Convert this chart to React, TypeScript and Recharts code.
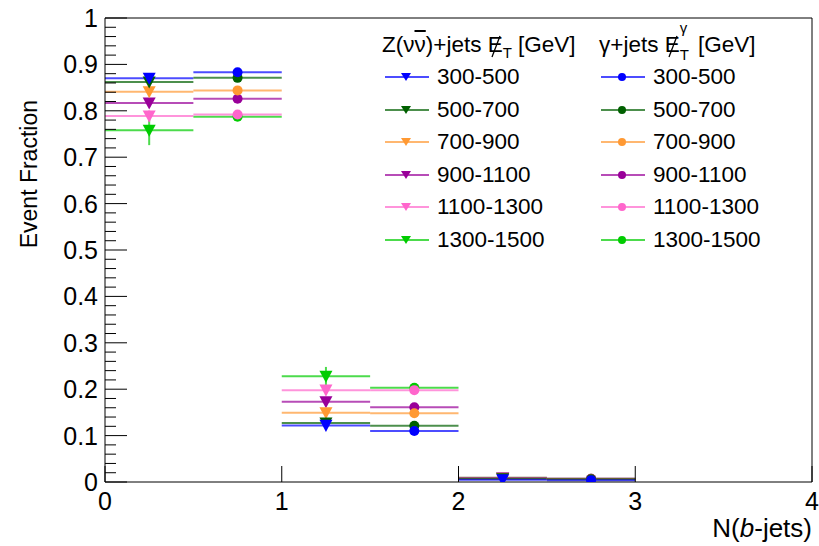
import React from 'react';
import { ComposedChart, ErrorBar, Label, Legend, ReferenceLine, Scatter, XAxis, YAxis } from 'recharts';

const FONT = '"Liberation Sans", Arial, Helvetica, sans-serif';

// MET ranges (GeV), same for both samples
const ranges = ['300-500', '500-700', '700-900', '900-1100', '1100-1300', '1300-1500'];
const colors = ['#0000ff', '#006000', '#ff9933', '#990099', '#ff66cc', '#00cc00'];

// bin centres: Z sits in the left half of each N(b-jets) bin, gamma in the right half
const zCenters = [0.25, 1.25, 2.25];
const gCenters = [0.75, 1.75, 2.75];
const halfWidth = 0.25;

// Z(nunu)+jets event fractions, one entry per MET range
const zFrac0b = [0.87, 0.862, 0.841, 0.817, 0.789, 0.758];
const zFrac1b = [0.122, 0.127, 0.149, 0.173, 0.198, 0.228];
const zFrac2b = [0.005, 0.007, 0.007, 0.008, 0.009, 0.009];
const zErr0b = [0.004, 0.005, 0.006, 0.008, 0.012, 0.032];
const zErr1b = [0.004, 0.005, 0.006, 0.007, 0.01, 0.02];
const zErr2b = [0.002, 0.002, 0.003, 0.003, 0.004, 0.004];

// gamma+jets event fractions
const gFrac0b = [0.883, 0.871, 0.844, 0.826, 0.792, 0.787];
const gFrac1b = [0.11, 0.121, 0.148, 0.161, 0.198, 0.203];
const gFrac2b = [0.004, 0.006, 0.006, 0.007, 0.007, 0.007];
const gErr0b = [0.002, 0.002, 0.003, 0.003, 0.004, 0.005];
const gErr1b = [0.002, 0.002, 0.003, 0.003, 0.004, 0.006];
const gErr2b = [0.001, 0.001, 0.001, 0.002, 0.002, 0.002];

const xTicks = [0, 1, 2, 3, 4];
const yTickLabels = ['0', '0.1', '0.2', '0.3', '0.4', '0.5', '0.6', '0.7', '0.8', '0.9', '1'];
// major every 0.1, four minor ticks in between
const yTicks = Array.from({ length: 51 }, (_, i) => i / 50);

type Point = { x: number; y: number; ex: number; ey: number };

function buildSeries(centers: number[], fracs: number[][], errs: number[][], i: number): Point[] {
    return centers.map((c, b) => ({ x: c, y: fracs[b][i], ex: halfWidth, ey: errs[b][i] }));
}

const zSeries = ranges.map((_, i) => buildSeries(zCenters, [zFrac0b, zFrac1b, zFrac2b], [zErr0b, zErr1b, zErr2b], i));
const gSeries = ranges.map((_, i) => buildSeries(gCenters, [gFrac0b, gFrac1b, gFrac2b], [gErr0b, gErr1b, gErr2b], i));
// highest MET range is drawn first so the low-MET markers sit on top
const drawOrder = ranges.map((_, i) => ranges.length - 1 - i);

const triangleDown = (color: string, s = 6.5) => (props: any) => {
    const { cx, cy } = props;
    return <path d={`M${cx - s},${cy - s * 0.85} L${cx + s},${cy - s * 0.85} L${cx},${cy + s}Z`} fill={color} />;
};

const dot = (color: string, r = 5) => (props: any) => {
    const { cx, cy } = props;
    return <circle cx={cx} cy={cy} r={r} fill={color} />;
};

const XTick = (props: any) => {
    const { x, y, payload } = props;
    return (
        <g>
            <line x1={x} x2={x} y1={y} y2={y - 16} stroke="#000" />
            <text x={x} y={y + 28} textAnchor="middle" fontSize={25} fontFamily={FONT} fill="#000">
                {String(payload.value)}
            </text>
        </g>
    );
};

const YTick = (props: any) => {
    const { x, y, payload } = props;
    const k = Math.round(payload.value * 50);
    const major = k % 5 === 0;
    return (
        <g>
            <line x1={x} x2={x + (major ? 22 : 11)} y1={y} y2={y} stroke="#000" />
            {major && (
                <text x={x - 7} y={y + 9} textAnchor="end" fontSize={25} fontFamily={FONT} fill="#000">
                    {yTickLabels[k / 5]}
                </text>
            )}
        </g>
    );
};

// E with a slash drawn through it (missing transverse energy)
const SlashE = () => (
    <span style={{ position: 'relative', display: 'inline-block' }}>
        E
        <svg width={16} height={30} style={{ position: 'absolute', left: 0, top: 0, overflow: 'visible' }}>
            <line x1={12} y1={5} x2={4} y2={26} stroke="#000" strokeWidth={1.3} />
        </svg>
    </span>
);

const rowTop = (i: number) => 62 + i * 32.6;

const LegendRow = ({ label, color, round }: { label: string; color: string; round: boolean }) => (
    <div style={{ display: 'flex', alignItems: 'center', height: 30 }}>
        <svg width={44} height={30}>
            <line x1={0} x2={44} y1={15} y2={15} stroke={color} strokeWidth={2} strokeOpacity={0.7} />
            {round ? <circle cx={21} cy={15} r={4} fill={color} /> : <path d="M16,11 L26,11 L21,19Z" fill={color} />}
        </svg>
        <span style={{ marginLeft: 8 }}>{label}</span>
    </div>
);

const renderLegend = () => (
    <div style={{ position: 'relative', width: 819, height: 260, fontFamily: FONT, fontSize: 22.5, color: '#000', whiteSpace: 'nowrap' }}>
        <div style={{ position: 'absolute', left: 382, top: 31, lineHeight: '28px' }}>
            Z(ν<span style={{ textDecoration: 'overline' }}>ν</span>)+jets <SlashE />
            <span style={{ fontSize: 15, position: 'relative', top: 6 }}>T</span> [GeV]
        </div>
        <div style={{ position: 'absolute', left: 599, top: 31, lineHeight: '28px' }}>
            γ+jets <SlashE />
            <span style={{ display: 'inline-block', position: 'relative', width: 12, height: 20, fontSize: 15 }}>
                <span style={{ position: 'absolute', left: 0, top: -18 }}>γ</span>
                <span style={{ position: 'absolute', left: 0, top: 9 }}>T</span>
            </span>{' '}
            [GeV]
        </div>
        {ranges.map((r, i) => (
            <div key={`z${r}`} style={{ position: 'absolute', left: 385, top: rowTop(i) }}>
                <LegendRow label={r} color={colors[i]} round={false} />
            </div>
        ))}
        {ranges.map((r, i) => (
            <div key={`g${r}`} style={{ position: 'absolute', left: 601, top: rowTop(i) }}>
                <LegendRow label={r} color={colors[i]} round />
            </div>
        ))}
    </div>
);

export default function App() {
    return (
        <div style={{ position: 'absolute', left: 0, top: 0, width: 819, height: 546, background: '#fff' }}>
            <ComposedChart width={819} height={546} margin={{ top: 18, right: 7, bottom: 0, left: 0 }}>
                <XAxis
                    type="number"
                    dataKey="x"
                    domain={[0, 4]}
                    ticks={xTicks}
                    interval={0}
                    allowDataOverflow
                    height={64}
                    stroke="#000"
                    tickSize={0}
                    tickMargin={0}
                    tickLine={false}
                    tick={<XTick />}
                >
                    <Label
                        content={(p: any) => {
                            const vb = p.viewBox;
                            return (
                                <text x={vb.x + vb.width} y={vb.y + 55} textAnchor="end" fontSize={26} fontFamily={FONT} fill="#000">
                                    N(<tspan fontStyle="italic">b</tspan>-jets)
                                </text>
                            );
                        }}
                    />
                </XAxis>
                <YAxis
                    type="number"
                    domain={[0, 1]}
                    ticks={yTicks}
                    interval={0}
                    allowDataOverflow
                    width={105}
                    stroke="#000"
                    tickSize={0}
                    tickMargin={0}
                    tickLine={false}
                    tick={<YTick />}
                >
                    <Label
                        content={() => (
                            <text
                                x={37}
                                y={100}
                                transform="rotate(-90 37 100)"
                                textAnchor="end"
                                fontSize={23}
                                fontFamily={FONT}
                                fill="#000"
                            >
                                Event Fraction
                            </text>
                        )}
                    />
                </YAxis>
                <ReferenceLine y={1} stroke="#000" />
                <ReferenceLine x={4} stroke="#000" />
                {drawOrder.map((i) => (
                    <Scatter key={`z${i}`} data={zSeries[i]} dataKey="y" shape={triangleDown(colors[i])} isAnimationActive={false}>
                        <ErrorBar dataKey="ex" direction="x" width={0} stroke={colors[i]} strokeWidth={2} strokeOpacity={0.7} />
                        <ErrorBar dataKey="ey" direction="y" width={0} stroke={colors[i]} strokeWidth={2} strokeOpacity={0.7} />
                    </Scatter>
                ))}
                {drawOrder.map((i) => (
                    <Scatter key={`g${i}`} data={gSeries[i]} dataKey="y" shape={dot(colors[i])} isAnimationActive={false}>
                        <ErrorBar dataKey="ex" direction="x" width={0} stroke={colors[i]} strokeWidth={2} strokeOpacity={0.7} />
                        <ErrorBar dataKey="ey" direction="y" width={0} stroke={colors[i]} strokeWidth={2} strokeOpacity={0.7} />
                    </Scatter>
                ))}
                <Legend
                    content={renderLegend}
                    layout="vertical"
                    align="center"
                    verticalAlign="middle"
                    wrapperStyle={{ left: 0, top: 0, width: 819, height: 260, pointerEvents: 'none' }}
                />
            </ComposedChart>
        </div>
    );
}
